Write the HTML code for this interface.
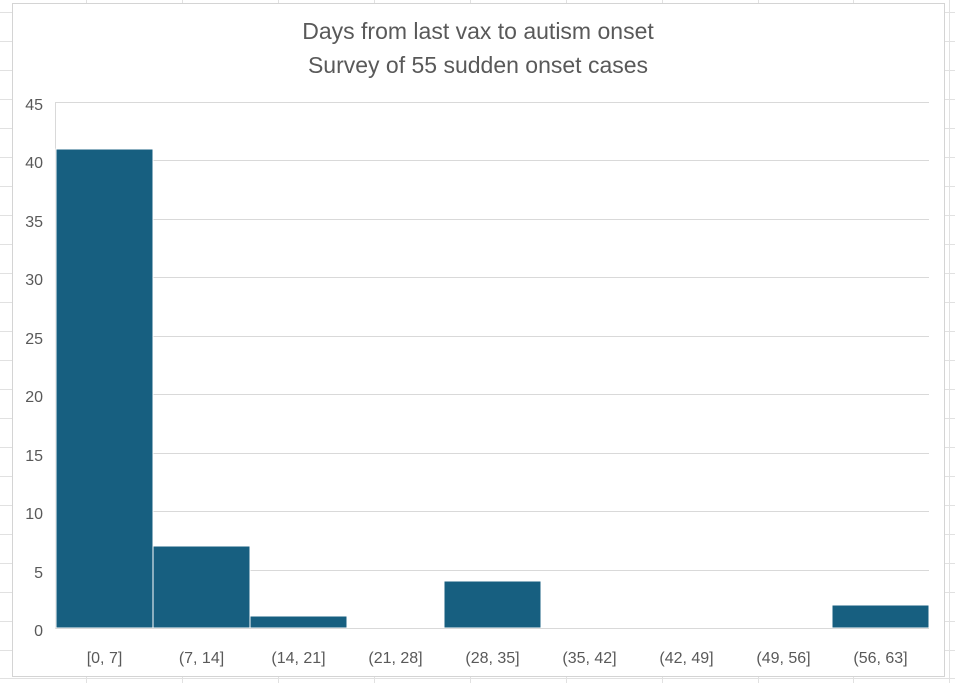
<!DOCTYPE html>
<html><head><style>
body{margin:0;width:955px;height:683px;overflow:hidden;background:#fff;font-family:"Liberation Sans",sans-serif;}
</style></head><body>
<svg width="955" height="683" xmlns="http://www.w3.org/2000/svg" style="display:block">
<g stroke="#e1e1e1" stroke-width="1">
<line x1="86.5" y1="0" x2="86.5" y2="683"/><line x1="182.5" y1="0" x2="182.5" y2="683"/>
<line x1="278.5" y1="0" x2="278.5" y2="683"/><line x1="374.5" y1="0" x2="374.5" y2="683"/>
<line x1="470.5" y1="0" x2="470.5" y2="683"/><line x1="566.5" y1="0" x2="566.5" y2="683"/>
<line x1="662.5" y1="0" x2="662.5" y2="683"/><line x1="758.5" y1="0" x2="758.5" y2="683"/>
<line x1="853.5" y1="0" x2="853.5" y2="683"/><line x1="949.5" y1="0" x2="949.5" y2="683"/>
<line x1="0" y1="12.5" x2="955" y2="12.5"/><line x1="0" y1="41.5" x2="955" y2="41.5"/>
<line x1="0" y1="70.5" x2="955" y2="70.5"/><line x1="0" y1="99.5" x2="955" y2="99.5"/>
<line x1="0" y1="128.5" x2="955" y2="128.5"/><line x1="0" y1="157.5" x2="955" y2="157.5"/>
<line x1="0" y1="186.5" x2="955" y2="186.5"/><line x1="0" y1="215.5" x2="955" y2="215.5"/>
<line x1="0" y1="244.5" x2="955" y2="244.5"/><line x1="0" y1="273.5" x2="955" y2="273.5"/>
<line x1="0" y1="302.5" x2="955" y2="302.5"/><line x1="0" y1="331.5" x2="955" y2="331.5"/>
<line x1="0" y1="360.5" x2="955" y2="360.5"/><line x1="0" y1="389.5" x2="955" y2="389.5"/>
<line x1="0" y1="418.5" x2="955" y2="418.5"/><line x1="0" y1="447.5" x2="955" y2="447.5"/>
<line x1="0" y1="476.5" x2="955" y2="476.5"/><line x1="0" y1="505.5" x2="955" y2="505.5"/>
<line x1="0" y1="534.5" x2="955" y2="534.5"/><line x1="0" y1="563.5" x2="955" y2="563.5"/>
<line x1="0" y1="592.5" x2="955" y2="592.5"/><line x1="0" y1="621.5" x2="955" y2="621.5"/>
<line x1="0" y1="650.5" x2="955" y2="650.5"/><line x1="0" y1="678.5" x2="955" y2="678.5"/>
</g>
<rect x="12.5" y="3.5" width="932" height="673" fill="#fff" stroke="#d4d4d4"/>
<g stroke="#d9d9d9" stroke-width="1">
<line x1="56" y1="102.5" x2="929" y2="102.5"/><line x1="56" y1="160.5" x2="929" y2="160.5"/>
<line x1="56" y1="219.5" x2="929" y2="219.5"/><line x1="56" y1="277.5" x2="929" y2="277.5"/>
<line x1="56" y1="336.5" x2="929" y2="336.5"/><line x1="56" y1="394.5" x2="929" y2="394.5"/>
<line x1="56" y1="453.5" x2="929" y2="453.5"/><line x1="56" y1="511.5" x2="929" y2="511.5"/>
<line x1="56" y1="570.5" x2="929" y2="570.5"/>
<line x1="55.5" y1="102" x2="55.5" y2="629"/>
</g>
<g fill="#175f80" stroke="#fff" stroke-width="1">
<rect x="56" y="149" width="97" height="479"/>
<rect x="153" y="546" width="97" height="82"/>
<rect x="250" y="616" width="97" height="12"/>
<rect x="444" y="581" width="97" height="47"/>
<rect x="832" y="605" width="97" height="23"/>
</g>
<line x1="56" y1="628.5" x2="929" y2="628.5" stroke="#d9d9d9"/>
<g fill="#595959" font-size="23" text-anchor="middle">
<text x="478" y="39">Days from last vax to autism onset</text>
<text x="478" y="73">Survey of 55 sudden onset cases</text>
</g>
<g fill="#595959" font-size="16" text-anchor="end">
<text x="43" y="110">45</text><text x="43" y="168">40</text><text x="43" y="227">35</text>
<text x="43" y="285">30</text><text x="43" y="344">25</text><text x="43" y="402">20</text>
<text x="43" y="461">15</text><text x="43" y="519">10</text><text x="43" y="578">5</text>
<text x="43" y="636">0</text>
</g>
<g fill="#595959" font-size="16" text-anchor="middle">
<text x="104.5" y="663">[0, 7]</text><text x="201.5" y="663">(7, 14]</text>
<text x="298.5" y="663">(14, 21]</text><text x="395.5" y="663">(21, 28]</text>
<text x="492.5" y="663">(28, 35]</text><text x="589.5" y="663">(35, 42]</text>
<text x="686.5" y="663">(42, 49]</text><text x="783.5" y="663">(49, 56]</text>
<text x="880.5" y="663">(56, 63]</text>
</g>
</svg>
</body></html>
